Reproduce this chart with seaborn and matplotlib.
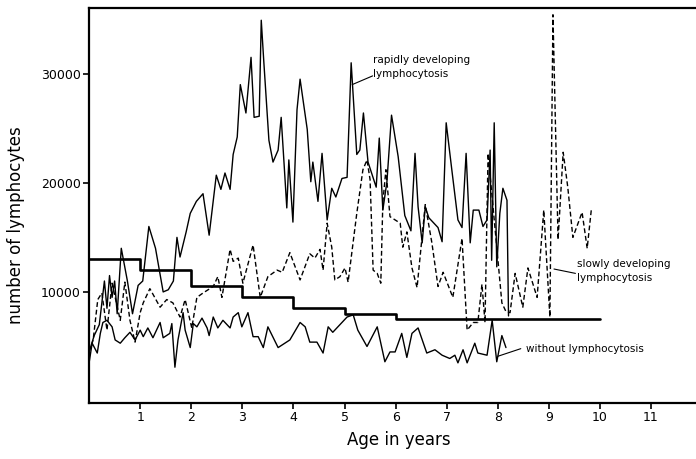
import matplotlib
matplotlib.use("Agg")
import matplotlib.pyplot as plt
import seaborn as sns
import pandas as pd

# ---- data ----
rapid_age = [0.0, 0.1, 0.2, 0.3, 0.35, 0.4, 0.45, 0.5, 0.55, 0.63, 0.75, 0.85, 0.96, 1.05,
             1.17, 1.3, 1.45, 1.55, 1.65, 1.72, 1.78, 1.9, 1.98, 2.1, 2.23, 2.35, 2.49, 2.58,
             2.66, 2.76, 2.82, 2.90, 2.96, 3.07, 3.17, 3.23, 3.33, 3.37, 3.42, 3.52, 3.60,
             3.70, 3.76, 3.82, 3.87, 3.91, 3.99, 4.07, 4.13, 4.27, 4.34, 4.38, 4.48, 4.56,
             4.66, 4.75, 4.83, 4.95, 5.05, 5.13, 5.24, 5.30, 5.37, 5.46, 5.62, 5.68, 5.75,
             5.83, 5.92, 6.05, 6.18, 6.30, 6.38, 6.44, 6.52, 6.58, 6.65, 6.75, 6.83, 6.91,
             6.99, 7.10, 7.22, 7.30, 7.38, 7.46, 7.52, 7.63, 7.71, 7.79, 7.85, 7.88, 7.93,
             7.98, 8.04, 8.10, 8.18, 8.21]
rapid_cnt = [4500, 6000, 7000, 11000, 8500, 11500, 9500, 11000, 8000, 14000, 11000, 8000,
             10600, 11000, 16000, 14000, 10000, 10200, 11000, 15000, 13200, 15500, 17200,
             18300, 19000, 15200, 20700, 19400, 20900, 19400, 22600, 24200, 29000, 26400,
             31500, 26000, 26100, 34900, 31100, 23900, 21900, 23000, 26000, 21500, 17700,
             22100, 16400, 26700, 29500, 24900, 20100, 21900, 18300, 22700, 16600, 19500,
             18700, 20400, 20500, 31000, 22600, 23000, 26400, 21900, 19600, 24100, 17500,
             20100, 26200, 22400, 17000, 15600, 22700, 17800, 14500, 17800, 16800, 16300,
             15900, 14600, 25500, 21200, 16600, 15900, 22700, 14500, 17500, 17500, 16000,
             16600, 23000, 12900, 25500, 12300, 17200, 19500, 18400, 7800]

slow_age = [0.0, 0.08, 0.17, 0.25, 0.35, 0.45, 0.61, 0.70, 0.80, 0.90, 1.0, 1.06, 1.19,
            1.39, 1.52, 1.64, 1.78, 1.88, 2.01, 2.11, 2.23, 2.43, 2.52, 2.60, 2.76, 2.82,
            2.92, 3.01, 3.21, 3.35, 3.50, 3.68, 3.78, 3.93, 4.13, 4.32, 4.42, 4.52, 4.58,
            4.66, 4.75, 4.81, 4.91, 5.01, 5.07, 5.24, 5.36, 5.44, 5.50, 5.56, 5.64, 5.71,
            5.75, 5.81, 5.89, 5.99, 6.09, 6.14, 6.22, 6.32, 6.42, 6.58, 6.71, 6.83, 6.93,
            7.12, 7.30, 7.40, 7.52, 7.61, 7.69, 7.75, 7.81, 7.98, 8.08, 8.16, 8.24, 8.34,
            8.49, 8.59, 8.77, 8.90, 9.02, 9.08, 9.18, 9.28, 9.37, 9.47, 9.65, 9.75, 9.83]
slow_cnt = [4500, 5600, 9300, 9900, 6500, 10800, 7400, 10900, 7400, 5400, 8100, 9000,
            10300, 8600, 9300, 9000, 7700, 9300, 6700, 9500, 9900, 10500, 11400, 9500,
            13900, 12800, 13100, 10800, 14300, 9500, 11400, 12000, 11800, 13600, 11100,
            13500, 13100, 13900, 12000, 16300, 14100, 11100, 11400, 12200, 10900, 17200,
            21200, 22100, 20300, 12000, 11700, 10800, 18200, 21200, 16900, 16600, 16300,
            14100, 15500, 12200, 10400, 18000, 14500, 10500, 11800, 9500, 14900, 6500,
            7200, 7200, 10700, 7200, 22700, 14100, 9000, 8200, 8100, 11700, 8600, 12200,
            9500, 17500, 7700, 35400, 14800, 22800, 19600, 15000, 17300, 14000, 17500]

without_age = [0.0, 0.06, 0.16, 0.22, 0.27, 0.35, 0.45, 0.51, 0.61, 0.70, 0.80, 0.90,
               1.0, 1.06, 1.15, 1.25, 1.39, 1.45, 1.58, 1.62, 1.68, 1.74, 1.84, 1.88,
               1.98, 2.04, 2.11, 2.21, 2.31, 2.35, 2.43, 2.52, 2.62, 2.76, 2.82, 2.92,
               2.99, 3.11, 3.21, 3.31, 3.41, 3.50, 3.70, 3.93, 4.13, 4.23, 4.32, 4.46,
               4.58, 4.68, 4.77, 4.91, 5.05, 5.17, 5.26, 5.44, 5.64, 5.79, 5.89, 5.99,
               6.12, 6.22, 6.32, 6.44, 6.61, 6.77, 6.91, 7.06, 7.16, 7.22, 7.32, 7.40,
               7.55, 7.61, 7.79, 7.89, 7.98, 8.08, 8.16]
without_cnt = [3500, 5300, 4400, 6200, 7200, 7400, 6800, 5600, 5300, 5800, 6300, 5600,
               6500, 5900, 6700, 5800, 7200, 5800, 6200, 7100, 3100, 5600, 8100, 6500,
               4900, 7100, 6800, 7600, 6700, 6000, 7700, 6700, 7400, 6700, 7700, 8100,
               6800, 8100, 5900, 5900, 4900, 6800, 4900, 5600, 7200, 6800, 5400, 5400,
               4400, 6800, 6300, 7000, 7700, 7900, 6500, 5000, 6800, 3600, 4500, 4500,
               6200, 4000, 6200, 6700, 4400, 4700, 4200, 3900, 4200, 3500, 4700, 3500,
               5300, 4400, 4200, 7400, 3600, 6000, 4900]

norm_age = [0, 1, 2, 3, 4, 5, 6, 10]
norm_cnt = [13000, 12000, 10500, 9500, 8500, 8000, 7500, 7500]

x_ticks = [1, 2, 3, 4, 5, 6, 7, 8, 9, 10, 11]
y_ticks = [10000, 20000, 30000]

# ---- plotting ----
sns.set_style("ticks")
plt.rcParams['font.family'] = ['DejaVu Sans']
plt.rcParams['text.color'] = 'black'
plt.rcParams['axes.labelcolor'] = 'black'

fig = plt.figure(figsize=(6.96, 4.59), dpi=100)
ax = fig.add_axes([0.128, 0.122, 0.872, 0.861])

df_r = pd.DataFrame({"age": rapid_age, "n": rapid_cnt})
df_s = pd.DataFrame({"age": slow_age, "n": slow_cnt})
df_w = pd.DataFrame({"age": without_age, "n": without_cnt})
df_n = pd.DataFrame({"age": norm_age, "n": norm_cnt})

sns.lineplot(data=df_n, x="age", y="n", ax=ax, color="black", lw=1.9,
             drawstyle="steps-post", estimator=None, sort=False)
sns.lineplot(data=df_w, x="age", y="n", ax=ax, color="black", lw=1.0,
             estimator=None, sort=False)
sns.lineplot(data=df_s, x="age", y="n", ax=ax, color="black", lw=1.0,
             estimator=None, sort=False, dashes=False)
ax.lines[-1].set_linestyle((0, (3.5, 2)))
sns.lineplot(data=df_r, x="age", y="n", ax=ax, color="black", lw=1.0,
             estimator=None, sort=False)

ax.set_xlim(0, 11.88)
ax.set_ylim(-180, 36040)
ax.set_xticks(x_ticks)
ax.set_xticklabels([str(t) for t in x_ticks])
ax.set_yticks(y_ticks)
ax.set_yticklabels([str(t) for t in y_ticks])

for s in ["left", "bottom", "top"]:
    ax.spines[s].set_linewidth(1.6)
    ax.spines[s].set_color("black")
ax.spines["right"].set_visible(False)
ax.tick_params(axis="both", direction="out", length=4, width=1.2,
               labelsize=9, colors="black", pad=2)

ax.set_xlabel("Age in years", fontsize=12, color="black")
ax.set_ylabel("number of lymphocytes", fontsize=12, color="black")
ax.yaxis.set_label_coords(-0.105, 0.45)
ax.xaxis.set_label_coords(0.51, -0.07)

# annotations
ax.text(5.56, 30600, "rapidly developing\nlymphocytosis", fontsize=7.5,
        va="center", ha="left", linespacing=1.5, color="black")
ax.plot([5.15, 5.55], [29000, 29800], color="black", lw=0.8)
ax.text(9.55, 11900, "slowly developing\nlymphocytosis", fontsize=7.5,
        va="center", ha="left", linespacing=1.5, color="black")
ax.plot([9.1, 9.52], [12100, 11700], color="black", lw=0.8)
ax.text(8.55, 4800, "without lymphocytosis", fontsize=7.5, va="center", ha="left",
        color="black")
ax.plot([8.0, 8.45], [4100, 4800], color="black", lw=0.8)

fig.savefig("out.png", dpi=100)
